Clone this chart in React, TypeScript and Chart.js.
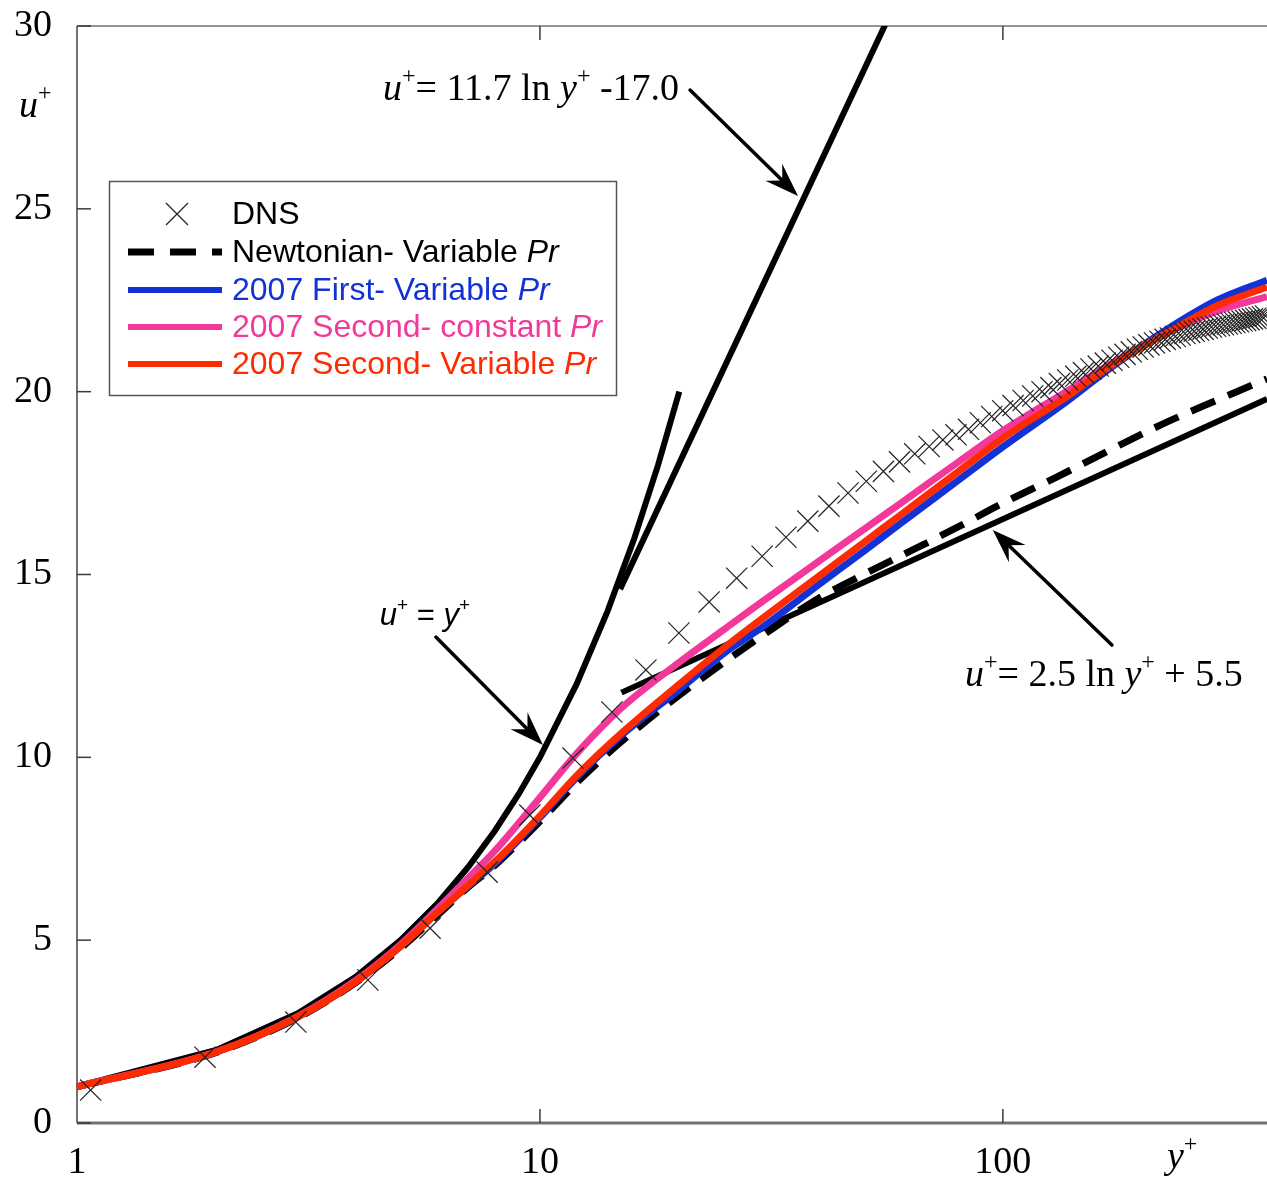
import React, { useEffect, useRef } from "react";
import { Chart, registerables } from "chart.js";

Chart.register(...registerables);

// ---------- axes ----------
const X_MIN = 1;
const X_MAX = 372;
const Y_MIN = 0;
const Y_MAX = 30;
const X_TICKS = [1, 10, 100];
const Y_TICKS = [0, 5, 10, 15, 20, 25, 30];

// ---------- DNS ----------
const dnsYPlus = [1.07, 1.89, 2.97, 4.25, 5.79, 7.69, 9.51, 11.79, 14.3, 16.94, 19.96, 23.2, 26.6, 30.2, 34.0, 37.9, 42.1, 46.3, 50.7, 55.2, 59.8, 64.5, 69.3, 74.2, 79.2, 84.3, 89.4, 94.6, 99.9, 105.2, 110.6, 116.0, 121.5, 127.0, 132.5, 138.1, 143.7, 149.3, 155.0, 160.7, 166.4, 172.1, 177.9, 183.6, 189.4, 195.2, 201.0, 206.8, 212.6, 218.4, 224.2, 230.0, 235.8, 241.6, 247.4, 253.2, 259.0, 264.8, 270.6, 276.4, 282.2, 288.0, 293.8, 299.6, 305.4, 311.2, 317.0, 322.8, 328.6, 334.4, 340.2, 346.0, 351.8, 357.6, 363.4, 369.2];
const dnsUPlus = [0.90, 1.80, 2.76, 3.91, 5.33, 6.86, 8.42, 9.98, 11.24, 12.39, 13.40, 14.25, 14.90, 15.50, 16.02, 16.46, 16.87, 17.23, 17.55, 17.82, 18.08, 18.30, 18.50, 18.68, 18.82, 18.97, 19.15, 19.32, 19.48, 19.62, 19.76, 19.88, 20.00, 20.11, 20.22, 20.32, 20.42, 20.52, 20.62, 20.70, 20.78, 20.86, 20.94, 21.02, 21.09, 21.16, 21.22, 21.28, 21.33, 21.38, 21.43, 21.47, 21.51, 21.55, 21.59, 21.62, 21.65, 21.68, 21.71, 21.74, 21.77, 21.79, 21.81, 21.83, 21.85, 21.87, 21.89, 21.91, 21.93, 21.95, 21.97, 21.99, 22.01, 22.03, 22.05, 22.07];

// ---------- reference laws ----------
const wallYPlus = [1, 2, 3, 4, 5, 6, 7, 8, 9, 10, 12, 14, 16, 18, 20];
const wallUPlus = [1, 2, 3, 4, 5, 6, 7, 8, 9, 10, 12, 14, 16, 18, 20];

const steepLawYPlus = [14.9, 56];
const steepLawUPlus = [14.6, 30.1];

const logLawYPlus = [15, 372];
const logLawUPlus = [11.77, 19.8];

// ---------- models ----------
const newtYPlus = [1, 2, 3, 4, 5, 6, 7, 8, 10, 12, 14, 17, 20, 25, 30, 40, 50, 60, 80, 100, 130, 170, 220, 270, 320, 372];
const newtUPlus = [0.99, 1.93, 2.88, 3.84, 4.78, 5.68, 6.45, 7.05, 8.25, 9.3, 10.1, 11.0, 11.7, 12.6, 13.3, 14.35, 15.0, 15.5, 16.3, 16.95, 17.65, 18.4, 19.1, 19.6, 20.0, 20.35];

const firstVarYPlus = [1, 2, 3, 4, 5, 6, 7, 8, 10, 12, 15, 20, 25, 30, 40, 50, 60, 80, 100, 137, 173, 226, 290, 372];
const firstVarUPlus = [0.99, 1.94, 2.9, 3.86, 4.83, 5.75, 6.48, 7.1, 8.35, 9.45, 10.6, 11.85, 12.85, 13.53, 14.72, 15.63, 16.39, 17.57, 18.49, 19.72, 20.7, 21.7, 22.5, 23.05];

const secondConstYPlus = [1, 2, 3, 4, 5, 6, 7, 8, 10, 12, 15, 20, 25, 30, 40, 50, 60, 80, 100, 137, 173, 226, 290, 372];
const secondConstUPlus = [1.0, 1.95, 2.92, 3.9, 4.88, 5.85, 6.7, 7.45, 8.9, 10.1, 11.35, 12.6, 13.5, 14.23, 15.36, 16.23, 16.94, 18.07, 18.93, 20.0, 20.8, 21.6, 22.2, 22.6];

const secondVarYPlus = [1, 2, 3, 4, 5, 6, 7, 8, 10, 12, 15, 20, 25, 30, 40, 50, 60, 80, 100, 137, 173, 226, 290, 372];
const secondVarUPlus = [0.99, 1.94, 2.9, 3.86, 4.83, 5.75, 6.5, 7.15, 8.4, 9.5, 10.66, 12.0, 13.0, 13.77, 14.95, 15.87, 16.62, 17.81, 18.73, 19.85, 20.75, 21.6, 22.35, 22.86];

// ---------- legend ----------
const legendLabels = ["DNS", "Newtonian- Variable ", "2007 First- Variable ", "2007 Second- constant ", "2007 Second- Variable "];
const legendItalic = ["", "Pr", "Pr", "Pr", "Pr"];

const BLACK = "#000000";
const BLUE = "#1232d6";
const PINK = "#f2389a";
const RED = "#fe2a00";
const legendColors = [BLACK, BLACK, BLUE, PINK, RED];

const SERIF = '"Liberation Serif", "Times New Roman", serif';
const SANS = '"Liberation Sans", Arial, sans-serif';

const pts = (xs: number[], ys: number[]) => xs.map((x, i) => ({ x, y: ys[i] }));

type Seg = { t: string; it?: boolean; sup?: boolean };

function richText(ctx: CanvasRenderingContext2D, segs: Seg[], x: number, y: number, family: string, size: number) {
  let cx = x;
  ctx.textBaseline = "alphabetic";
  ctx.textAlign = "left";
  for (const s of segs) {
    const fs = s.sup ? Math.round(size * 0.62) : size;
    ctx.font = `${s.it ? "italic " : ""}${fs}px ${family}`;
    const dy = s.sup ? -size * 0.45 : 0;
    ctx.fillText(s.t, cx, y + dy);
    cx += ctx.measureText(s.t).width;
  }
}

function arrow(ctx: CanvasRenderingContext2D, x1: number, y1: number, x2: number, y2: number) {
  const ang = Math.atan2(y2 - y1, x2 - x1);
  const L = 34;
  const W = 12;
  const notch = 22;
  ctx.lineWidth = 3.5;
  ctx.lineCap = "round";
  ctx.beginPath();
  ctx.moveTo(x1, y1);
  ctx.lineTo(x2 - Math.cos(ang) * notch, y2 - Math.sin(ang) * notch);
  ctx.stroke();
  const bx = x2 - Math.cos(ang) * L;
  const by = y2 - Math.sin(ang) * L;
  const nx = -Math.sin(ang);
  const ny = Math.cos(ang);
  ctx.beginPath();
  ctx.moveTo(x2, y2);
  ctx.lineTo(bx + nx * W, by + ny * W);
  ctx.lineTo(x2 - Math.cos(ang) * notch, y2 - Math.sin(ang) * notch);
  ctx.lineTo(bx - nx * W, by - ny * W);
  ctx.closePath();
  ctx.fill();
}

// annotation anchors in data coordinates
const noteSteep = { tx: 4.58, tu: 27.97, ax1: 21.1, au1: 28.25, ax2: 36.1, au2: 25.35 };
const noteWall = { tx: 4.51, tu: 13.62, ax1: 5.96, au1: 13.29, ax2: 10.15, au2: 10.34 };
const noteLog = { tx: 82.8, tu: 11.95, ax1: 172, au1: 13.07, ax2: 95.1, au2: 16.22 };

const decor = {
  id: "decor",
  beforeDatasetsDraw(chart: any) {
    const { ctx, chartArea: a, scales } = chart;
    const xs = scales.x;
    const ys = scales.y;
    ctx.save();
    ctx.strokeStyle = "#727272";
    ctx.lineWidth = 2;
    ctx.beginPath();
    ctx.moveTo(a.left, a.top);
    ctx.lineTo(a.left, a.bottom);
    ctx.stroke();
    ctx.lineWidth = 1.5;
    ctx.beginPath();
    ctx.moveTo(a.left, a.top);
    ctx.lineTo(a.right, a.top);
    ctx.stroke();
    ctx.lineWidth = 3;
    ctx.beginPath();
    ctx.moveTo(a.left, a.bottom);
    ctx.lineTo(a.right, a.bottom);
    ctx.stroke();
    ctx.strokeStyle = "#3a3a3a";
    ctx.lineWidth = 1.5;
    for (const v of Y_TICKS) {
      const py = ys.getPixelForValue(v);
      ctx.beginPath();
      ctx.moveTo(a.left, py);
      ctx.lineTo(a.left + 14, py);
      ctx.stroke();
    }
    for (const v of X_TICKS) {
      if (v === X_MIN) continue;
      const px = xs.getPixelForValue(v);
      ctx.beginPath();
      ctx.moveTo(px, a.bottom);
      ctx.lineTo(px, a.bottom - 14);
      ctx.moveTo(px, a.top);
      ctx.lineTo(px, a.top + 14);
      ctx.stroke();
    }
    ctx.restore();
  },
  afterDatasetsDraw(chart: any) {
    const { ctx, scales } = chart;
    const xs = scales.x;
    const ys = scales.y;
    const X = (v: number) => xs.getPixelForValue(v);
    const Y = (v: number) => ys.getPixelForValue(v);
    ctx.save();

    // legend box
    const bx = 109.5, by = 181.5, bw = 507, bh = 214;
    ctx.fillStyle = "#ffffff";
    ctx.fillRect(bx, by, bw, bh);
    ctx.strokeStyle = "#555555";
    ctx.lineWidth = 1.5;
    ctx.strokeRect(bx, by, bw, bh);
    const rows = [214, 252, 290, 327, 364];
    for (let i = 0; i < rows.length; i++) {
      const ry = rows[i];
      if (i === 0) {
        ctx.strokeStyle = "#222";
        ctx.lineWidth = 1.2;
        ctx.beginPath();
        ctx.moveTo(166, ry - 11);
        ctx.lineTo(188, ry + 11);
        ctx.moveTo(188, ry - 11);
        ctx.lineTo(166, ry + 11);
        ctx.stroke();
      } else {
        ctx.strokeStyle = legendColors[i];
        ctx.lineWidth = i === 1 ? 7 : 6;
        ctx.lineCap = "butt";
        ctx.setLineDash(i === 1 ? [26, 16] : []);
        ctx.beginPath();
        ctx.moveTo(128, ry);
        ctx.lineTo(222, ry);
        ctx.stroke();
        ctx.setLineDash([]);
      }
      ctx.fillStyle = legendColors[i];
      ctx.textBaseline = "middle";
      ctx.textAlign = "left";
      ctx.font = `32px ${SANS}`;
      ctx.fillText(legendLabels[i], 232, ry + 1);
      const w = ctx.measureText(legendLabels[i]).width;
      if (legendItalic[i]) {
        ctx.font = `italic 32px ${SANS}`;
        ctx.fillText(legendItalic[i], 232 + w, ry + 1);
      }
    }

    // annotations
    ctx.fillStyle = "#000";
    ctx.strokeStyle = "#000";
    richText(ctx, [{ t: "u", it: true }, { t: "+", sup: true }, { t: "= 11.7 ln " }, { t: "y", it: true }, { t: "+", sup: true }, { t: " -17.0" }], X(noteSteep.tx), Y(noteSteep.tu), SERIF, 38);
    arrow(ctx, X(noteSteep.ax1), Y(noteSteep.au1), X(noteSteep.ax2), Y(noteSteep.au2));

    richText(ctx, [{ t: "u", it: true }, { t: "+", sup: true }, { t: " = " }, { t: "y", it: true }, { t: "+", sup: true }], X(noteWall.tx), Y(noteWall.tu), SANS, 31);
    arrow(ctx, X(noteWall.ax1), Y(noteWall.au1), X(noteWall.ax2), Y(noteWall.au2));

    richText(ctx, [{ t: "u", it: true }, { t: "+", sup: true }, { t: "= 2.5 ln " }, { t: "y", it: true }, { t: "+", sup: true }, { t: " + 5.5" }], X(noteLog.tx), Y(noteLog.tu), SERIF, 38);
    arrow(ctx, X(noteLog.ax1), Y(noteLog.au1), X(noteLog.ax2), Y(noteLog.au2));

    // axis titles
    richText(ctx, [{ t: "u", it: true }, { t: "+", sup: true }], 19, 117, SERIF, 38);
    richText(ctx, [{ t: "y", it: true }, { t: "+", sup: true }], 1167, 1168, SERIF, 38);

    ctx.restore();
  },
};

const CLIP = { left: 8, top: 0, right: 0, bottom: 8 };

export default function App() {
  const ref = useRef<HTMLCanvasElement>(null);
  useEffect(() => {
    if (!ref.current) return;
    const chart = new Chart(ref.current, {
      type: "line",
      data: {
        datasets: [
          {
            label: "DNS",
            data: pts(dnsYPlus, dnsUPlus),
            showLine: false,
            pointStyle: "crossRot",
            pointRadius: 15,
            pointBorderWidth: 1.2,
            borderColor: "#222",
            backgroundColor: "#222",
            order: 0,
            clip: CLIP,
          },
          {
            label: "2007 Second- Variable Pr",
            data: pts(secondVarYPlus, secondVarUPlus),
            borderColor: RED,
            borderWidth: 7,
            pointRadius: 0,
            cubicInterpolationMode: "monotone",
            order: 1,
            clip: CLIP,
          },
          {
            label: "2007 Second- constant Pr",
            data: pts(secondConstYPlus, secondConstUPlus),
            borderColor: PINK,
            borderWidth: 7,
            pointRadius: 0,
            cubicInterpolationMode: "monotone",
            order: 2,
            clip: CLIP,
          },
          {
            label: "2007 First- Variable Pr",
            data: pts(firstVarYPlus, firstVarUPlus),
            borderColor: BLUE,
            borderWidth: 7,
            pointRadius: 0,
            cubicInterpolationMode: "monotone",
            order: 3,
            clip: CLIP,
          },
          {
            label: "Newtonian- Variable Pr",
            data: pts(newtYPlus, newtUPlus),
            borderColor: BLACK,
            borderWidth: 7,
            borderDash: [26, 14],
            pointRadius: 0,
            cubicInterpolationMode: "monotone",
            order: 4,
            clip: CLIP,
          },
          {
            label: "u+ = y+",
            data: pts(wallYPlus, wallUPlus),
            borderColor: BLACK,
            borderWidth: 6,
            pointRadius: 0,
            tension: 0,
            order: 5,
            clip: CLIP,
          },
          {
            label: "u+ = 11.7 ln y+ - 17.0",
            data: pts(steepLawYPlus, steepLawUPlus),
            borderColor: BLACK,
            borderWidth: 6,
            pointRadius: 0,
            tension: 0,
            order: 5,
            clip: CLIP,
          },
          {
            label: "u+ = 2.5 ln y+ + 5.5",
            data: pts(logLawYPlus, logLawUPlus),
            borderColor: BLACK,
            borderWidth: 6,
            pointRadius: 0,
            tension: 0,
            order: 5,
            clip: CLIP,
          },
        ],
      } as any,
      options: {
        responsive: false,
        devicePixelRatio: 1,
        animation: false,
        layout: { autoPadding: false, padding: { top: 26, left: 0, right: 0, bottom: 0 } },
        plugins: { legend: { display: false }, tooltip: { enabled: false } },
        events: [],
        scales: {
          x: {
            type: "logarithmic",
            min: X_MIN,
            max: X_MAX,
            position: "bottom",
            grid: { display: false, drawTicks: false },
            border: { display: false },
            afterBuildTicks: (s: any) => {
              s.ticks = X_TICKS.map((v) => ({ value: v }));
            },
            afterFit: (s: any) => {
              s.height = 60;
              s.paddingLeft = 0;
              s.paddingRight = 0;
              s.paddingTop = 0;
              s.paddingBottom = 0;
            },
            ticks: {
              color: "#000",
              font: { family: SERIF, size: 38 },
              padding: 17,
              maxRotation: 0,
              autoSkip: false,
              callback: (v: any) => String(v),
            },
          },
          y: {
            type: "linear",
            min: Y_MIN,
            max: Y_MAX,
            grid: { display: false, drawTicks: false },
            border: { display: false },
            afterBuildTicks: (s: any) => {
              s.ticks = Y_TICKS.map((v) => ({ value: v }));
            },
            afterFit: (s: any) => {
              s.width = 77;
              s.paddingLeft = 0;
              s.paddingRight = 0;
              s.paddingTop = 0;
              s.paddingBottom = 0;
            },
            ticks: {
              color: "#000",
              font: { family: SERIF, size: 38 },
              padding: 25,
              callback: (v: any) => String(v),
            },
          },
        },
      } as any,
      plugins: [decor as any],
    });
    return () => chart.destroy();
  }, []);
  return (
    <div style={{ position: "absolute", left: 0, top: 0, width: 1267, height: 1183, background: "#fff" }}>
      <canvas ref={ref} width={1267} height={1183} style={{ display: "block", width: 1267, height: 1183 }} />
    </div>
  );
}
